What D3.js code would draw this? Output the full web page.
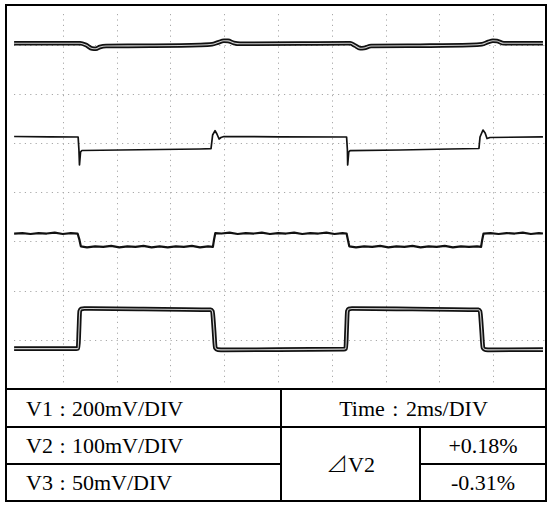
<!DOCTYPE html>
<html><head><meta charset="utf-8">
<script src="https://cdn.jsdelivr.net/npm/d3@7"></script>
<style>html,body{margin:0;padding:0;background:#fff}svg{display:block}</style>
</head><body>
<script>
// ---- data (time in ms, level in screen divisions from bottom) ----
const v1Time = [0.19,2.64,2.86,3.09,3.23,3.38,3.61,5.24,7.10,7.55,7.77,7.99,8.14,8.36,8.59,10.82,12.68,12.86,13.05,13.20,13.46,15.28,17.14,17.58,17.81,17.99,18.14,18.40,19.85];
const v1Level = [7.026,7.026,6.992,6.921,6.917,6.951,6.972,6.976,6.992,7.006,7.043,7.077,7.075,7.033,7.016,7.022,7.026,6.982,6.925,6.931,6.972,6.978,6.992,7.006,7.053,7.079,7.073,7.026,7.026];

const v2Time = [0.19,1.52,2.57,2.60,2.62,2.66,2.71,4.13,5.61,7.10,7.51,7.57,7.66,7.73,7.81,7.88,7.99,10.07,12.55,12.58,12.59,12.63,12.68,14.54,16.39,17.47,17.51,17.62,17.70,17.77,17.88,19.85];
const v2Level = [5.132,5.126,5.122,4.858,4.553,4.817,4.848,4.858,4.868,4.878,4.884,5.163,5.250,5.183,5.081,5.112,5.132,5.126,5.122,4.858,4.553,4.817,4.843,4.858,4.878,4.888,5.122,5.264,5.203,5.091,5.112,5.126];

const v3Time = [0.19,0.50,0.80,1.10,1.40,1.70,2.00,2.30,2.55,2.62,2.67,2.90,3.20,3.50,3.80,4.10,4.40,4.70,5.00,5.30,5.60,5.90,6.20,6.50,6.80,7.10,7.40,7.58,7.62,7.67,7.90,8.20,8.50,8.80,9.10,9.40,9.70,10.00,10.30,10.60,10.90,11.20,11.50,11.80,12.10,12.40,12.55,12.60,12.65,12.90,13.20,13.50,13.80,14.10,14.40,14.70,15.00,15.30,15.60,15.90,16.20,16.50,16.80,17.10,17.40,17.55,17.59,17.64,17.90,18.20,18.50,18.80,19.10,19.40,19.70,19.85];
const v3Level = [3.16,3.17,3.15,3.17,3.16,3.18,3.15,3.17,3.16,3.03,2.90,2.88,2.90,2.89,2.91,2.88,2.90,2.89,2.91,2.88,2.90,2.88,2.90,2.89,2.91,2.88,2.90,2.89,3.03,3.17,3.16,3.18,3.15,3.17,3.16,3.18,3.15,3.17,3.16,3.18,3.15,3.17,3.16,3.18,3.15,3.17,3.16,3.03,2.90,2.88,2.90,2.89,2.91,2.88,2.90,2.89,2.91,2.88,2.90,2.89,2.91,2.88,2.90,2.89,2.90,2.89,3.03,3.16,3.17,3.15,3.17,3.16,3.18,3.15,3.17,3.16];

const v4Time = [0.19,2.50,2.57,2.60,2.63,2.68,2.80,5.00,7.50,7.56,7.62,7.67,7.76,8.00,10.00,12.45,12.52,12.55,12.58,12.63,12.75,15.00,17.45,17.51,17.57,17.62,17.71,17.90,19.85];
const v4Level = [0.82,0.82,0.83,1.20,1.58,1.625,1.635,1.625,1.61,1.58,1.20,0.84,0.80,0.795,0.80,0.81,0.825,1.20,1.58,1.625,1.635,1.625,1.61,1.58,1.20,0.84,0.80,0.795,0.80];

const timeDivs = [2,4,6,8,10,12,14,16,18];
const levelDivs = [1,2,3,4,5,6,7];

const tableLeft = ["V1 : 200mV/DIV","V2 : 100mV/DIV","V3 : 50mV/DIV"];
const timeLabel = "Time : 2ms/DIV";
const deltaSymbol = "⊿";
const deltaName = "V2";
const deltaValues = ["+0.18%","-0.31%"];

// ---- drawing ----
const W = 548, H = 505;
const svg = d3.select("body").append("svg").attr("width", W).attr("height", H);

const x = d3.scaleLinear().domain([0, 20]).range([9, 547]);
const y = d3.scaleLinear().domain([0, 8]).range([389, -4.6]);

const grid = svg.append("g");
grid.selectAll("line.v").data(timeDivs).join("line")
  .attr("x1", d => Math.round(x(d)) + 0.5).attr("x2", d => Math.round(x(d)) + 0.5)
  .attr("y1", 14).attr("y2", 386)
  .attr("stroke", "#a8a8a8").attr("stroke-width", 1).attr("stroke-dasharray", "1.2,4.2");
grid.selectAll("line.h").data(levelDivs).join("line")
  .attr("y1", d => Math.round(y(d)) + 0.5).attr("y2", d => Math.round(y(d)) + 0.5)
  .attr("x1", 14).attr("x2", 545)
  .attr("stroke", "#a8a8a8").attr("stroke-width", 1).attr("stroke-dasharray", "1.2,4.2");

function pts(t, v) { return t.map((d, i) => [d, v[i]]); }
const lineSmooth = d3.line().x(d => x(d[0])).y(d => y(d[1])).curve(d3.curveMonotoneX);
const lineLin = d3.line().x(d => x(d[0])).y(d => y(d[1]));

const traces = svg.append("g").attr("fill", "none").attr("stroke-linejoin", "round");
traces.append("path").attr("d", lineSmooth(pts(v1Time, v1Level))).attr("stroke", "#111").attr("stroke-width", 4.6);
traces.append("path").attr("d", lineSmooth(pts(v1Time, v1Level))).attr("stroke", "#d0d0d0").attr("stroke-width", 1.1);
traces.append("path").attr("d", lineLin(pts(v2Time, v2Level))).attr("stroke", "#111").attr("stroke-width", 1.7);
traces.append("path").attr("d", lineLin(pts(v3Time, v3Level))).attr("stroke", "#111").attr("stroke-width", 2.2);
traces.append("path").attr("d", lineSmooth(pts(v4Time, v4Level))).attr("stroke", "#111").attr("stroke-width", 4.6);
traces.append("path").attr("d", lineSmooth(pts(v4Time, v4Level))).attr("stroke", "#d0d0d0").attr("stroke-width", 1.1);

// ---- frame & table ----
const L = 6, R = 546, T = 5, B = 501;
const tTop = 389, r1 = 427, r2 = 464, c1 = 281, c2 = 420;
const frame = svg.append("g").attr("stroke", "#000").attr("stroke-width", 2).attr("fill", "none");
frame.append("rect").attr("x", L).attr("y", T).attr("width", R - L).attr("height", B - T);
frame.append("line").attr("x1", L).attr("x2", R).attr("y1", tTop).attr("y2", tTop);
frame.append("line").attr("x1", L).attr("x2", R).attr("y1", r1).attr("y2", r1);
frame.append("line").attr("x1", L).attr("x2", c1).attr("y1", r2).attr("y2", r2);
frame.append("line").attr("x1", c2).attr("x2", R).attr("y1", r2).attr("y2", r2);
frame.append("line").attr("x1", c1).attr("x2", c1).attr("y1", tTop).attr("y2", B);
frame.append("line").attr("x1", c2).attr("x2", c2).attr("y1", r1).attr("y2", B);

const txt = svg.append("g").attr("font-family", "'Liberation Serif','Times New Roman',serif")
  .attr("font-size", 22).attr("fill", "#000");
const rowMid = [(tTop + r1) / 2, (r1 + r2) / 2, (r2 + B) / 2];
txt.selectAll("text.l").data(tableLeft).join("text")
  .attr("x", 26).attr("y", (d, i) => rowMid[i]).attr("dy", "0.35em").attr("word-spacing", 1).text(d => d);
txt.append("text").attr("x", (c1 + R) / 2).attr("y", rowMid[0]).attr("dy", "0.35em")
  .attr("text-anchor", "middle").attr("word-spacing", 2).text(timeLabel);
const dt = txt.append("text").attr("x", (c1 + c2) / 2).attr("y", (r1 + B) / 2).attr("dy", "0.35em")
  .attr("text-anchor", "middle");
dt.append("tspan").attr("font-family", "'Noto Sans CJK SC','DejaVu Sans',sans-serif").attr("font-size", 22).attr("font-weight", 300).text(deltaSymbol);
dt.append("tspan").text(deltaName);
txt.selectAll("text.r").data(deltaValues).join("text")
  .attr("x", (c2 + R) / 2).attr("y", (d, i) => rowMid[i + 1]).attr("dy", "0.35em")
  .attr("text-anchor", "middle").text(d => d);
</script>
</body></html>
